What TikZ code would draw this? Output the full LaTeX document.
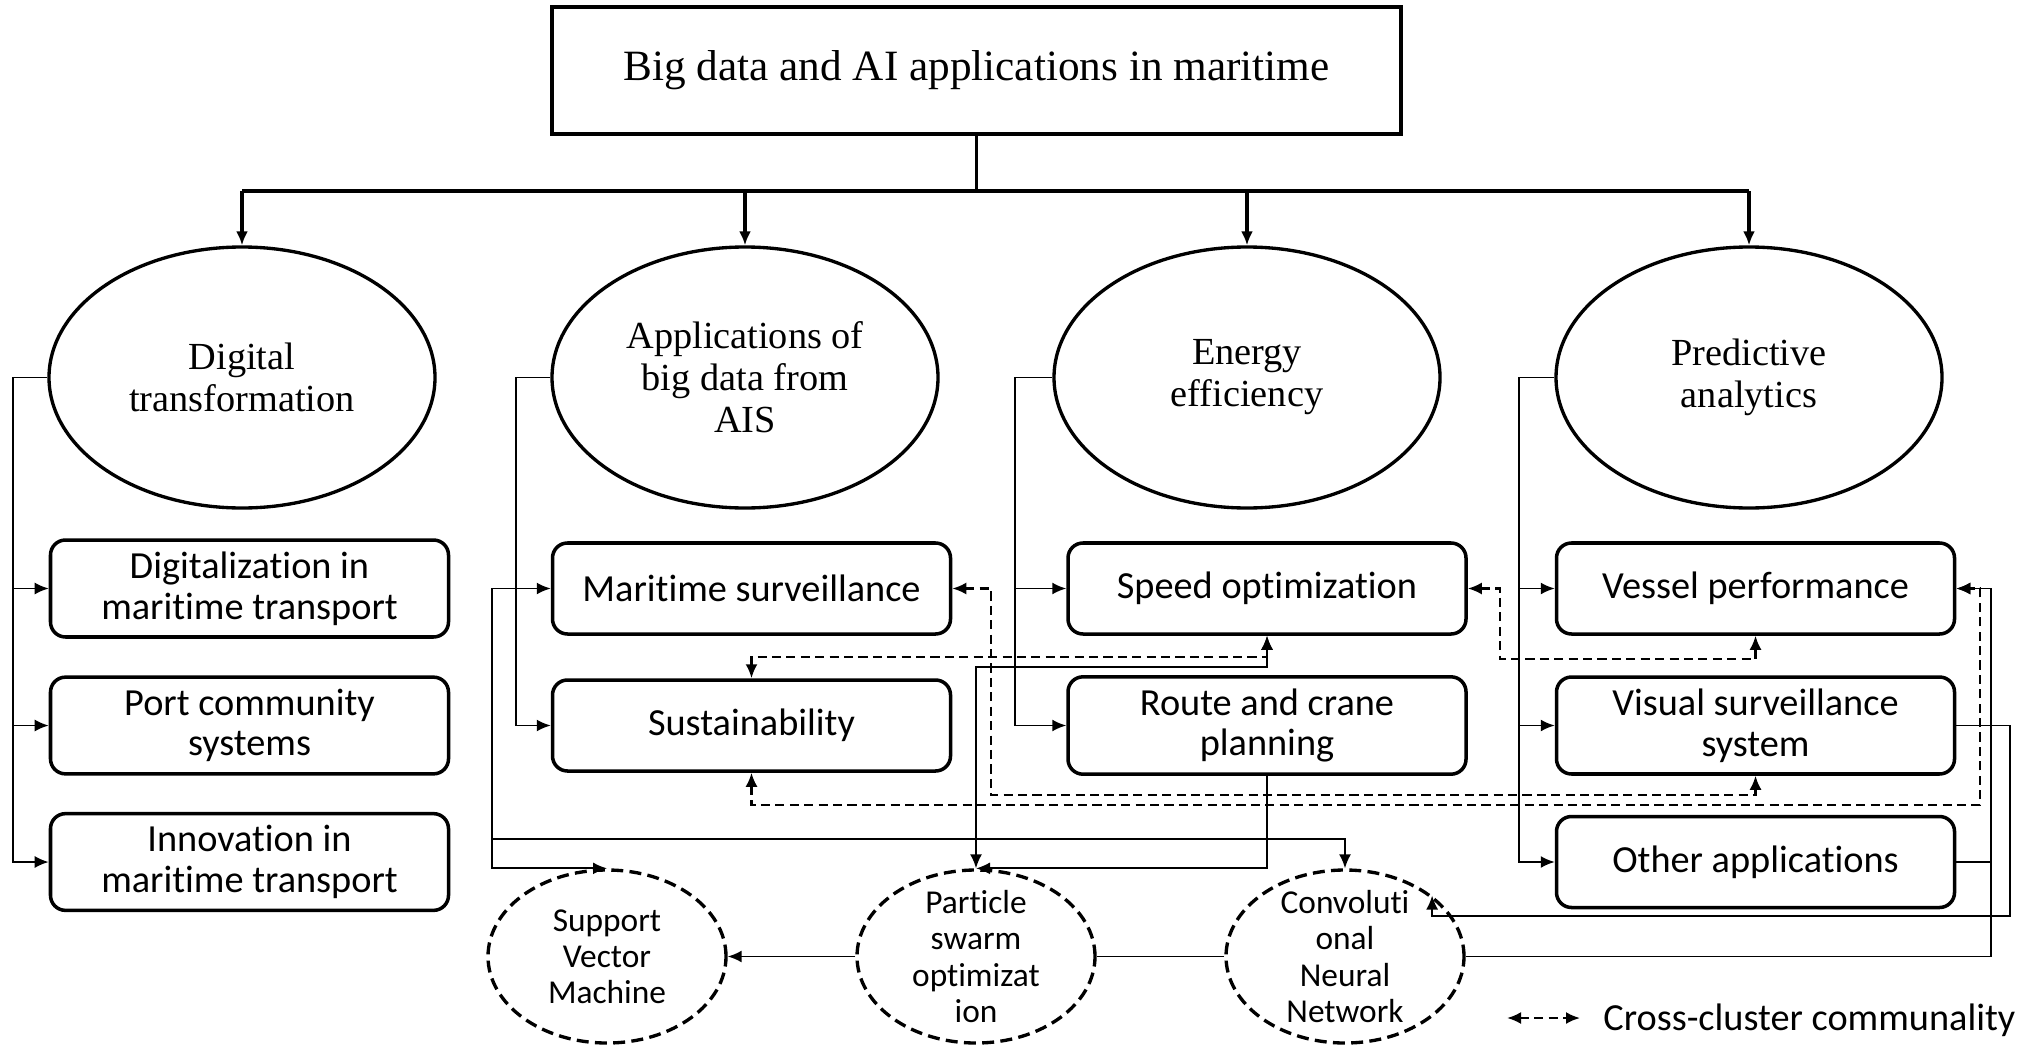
\documentclass[tikz,border=0pt]{standalone}
\usepackage{fontspec}
\setmainfont{Liberation Serif}
\newfontfamily\calfont[Ligatures={NoCommon,NoDiscretionary,NoContextual}]{Carlito}
\usetikzlibrary{shapes.geometric,arrows.meta}

\begin{document}
\begin{tikzpicture}[
        topic/.style={draw, line width=0.95pt, ellipse, minimum width=3.86cm, minimum height=2.61cm, inner sep=0pt, align=center, font=\fontsize{10.9}{12}\selectfont},
        app/.style={draw, line width=1pt, rounded corners=0.15cm, minimum width=3.98cm, minimum height=0.91cm, align=center, font=\calfont\fontsize{10.9}{11.6}\selectfont},
        method/.style={draw, dash pattern=on 3.4pt off 1.8pt, line width=0.95pt, ellipse, minimum width=2.38cm, minimum height=1.73cm, inner sep=0pt},
        methodtext/.style={align=center, inner sep=0pt, font=\calfont\fontsize{9.5}{10.3}\selectfont},
        link/.style={line width=0.55pt, -{Latex[length=1.4mm,width=1.2mm]}},
        both/.style={line width=0.55pt, {Latex[length=1.4mm,width=1.2mm]}-{Latex[length=1.4mm,width=1.2mm]}},
        cross/.style={both, line width=0.65pt, dash pattern=on 2.6pt off 1.5pt},
    ]
        \useasboundingbox (0, 0) rectangle (20.36, -10.48);

        \node[draw, line width=0.95pt, minimum width=8.49cm, minimum height=1.27cm, font=\fontsize{12.3}{14}\selectfont] (root) at(9.765, -0.705){Big data and AI applications in maritime};

        \node[topic] (dt) at(2.42, -3.775){Digital\\transformation};
        \node[topic] (ais) at(7.45, -3.775){Applications of\\big data from\\AIS};
        \node[topic] (ee) at(12.47, -3.775){Energy\\efficiency};
        \node[topic] (pa) at(17.49, -3.775){Predictive\\analytics};

        \node[app] (dmt) at(2.495, -5.885){Digitalization in\\maritime transport};
        \node[app] (pcs) at(2.495, -7.255){Port community\\systems};
        \node[app] (imt) at(2.495, -8.62){Innovation in\\maritime transport};
        \node[app] (ms) at(7.515, -5.885){Maritime surveillance};
        \node[app] (sus) at(7.515, -7.255){Sustainability};
        \node[app] (so) at(12.67, -5.885){Speed optimization};
        \node[app] (rcp) at(12.67, -7.255){Route and crane\\planning};
        \node[app] (vp) at(17.555, -5.885){Vessel performance};
        \node[app] (vss) at(17.555, -7.255){Visual surveillance\\system};
        \node[app] (oa) at(17.555, -8.62){Other applications};

        \node[method] (svm) at(6.07, -9.565){};
        \node[methodtext] (svmt) at(svm){Support\\Vector\\Machine};
        \node[method] (pso) at(9.76, -9.565){};
        \node[methodtext] (psot) at(pso){Particle\\swarm\\optimizat\\ion};
        \node[method] (cnn) at(13.45, -9.565){};
        \node[methodtext] (cnnt) at(cnn){Convoluti\\onal\\Neural\\Network};

        \coordinate (bus) at(9.765, -1.91);
        \draw[line width=1.1pt] (root.south) -- (bus);
        \draw[line width=1.1pt] (dt.north |- bus) -- (pa.north |- bus);
        \foreach \t in {dt, ais, ee, pa}
            \draw[link, line width=1.1pt] (\t.north |- bus) -- (\t.north);

        \coordinate (dtl) at(0.13, -3.775);
        \draw[link] (dt.west) -- (dtl) |- (imt.west);
            \draw[link] (dtl |- dmt.west) -- (dmt.west);
            \draw[link] (dtl |- pcs.west) -- (pcs.west);
        \coordinate (aisl) at(5.16, -3.775);
        \draw[link] (ais.west) -- (aisl) |- (sus.west);
        \coordinate (eel) at(10.15, -3.775);
        \draw[link] (ee.west) -- (eel) |- (rcp.west);
            \draw[link] (eel |- so.west) -- (so.west);
        \coordinate (pal) at(15.19, -3.775);
        \draw[link] (pa.west) -- (pal) |- (oa.west);
            \draw[link] (pal |- vp.west) -- (vp.west);
            \draw[link] (pal |- vss.west) -- (vss.west);

        \coordinate (msl) at(4.92, -5.885);
        \coordinate (cnnl) at(4.92, -8.39);
        \draw[both] (ms.west) -- (msl) |- (svm.north);
        \draw[link] (cnnl) -| (cnn.north);
        \coordinate (psol) at(12.67, -6.67);
        \draw[both] (pso.north) |- (psol) -- (so.south);
        \draw[link] (rcp.south) |- (pso.north);
        \draw[link] (pso.west) -- (svm.east);
        \draw[line width=0.55pt] (cnn.west) -- (pso.east);
        \coordinate (oar) at(19.91, -9.565);
        \draw[line width=0.55pt] (oa.east) -| (oar) -- (cnn.east);
        \draw[link] (oar) |- (vp.east);
        \coordinate (vssr) at(20.10, -9.16);
        \draw[link] (vss.east) -| (vssr) -| (cnn.35);

        \coordinate (msr) at(9.91, -7.95);
        \draw[cross] (ms.east) -| (msr) -| (vss.south);
        \coordinate (susb) at(19.80, -8.05);
        \draw[cross] (sus.south) |- (susb) |- (vp.east);
        \coordinate (sust) at(7.515, -6.57);
        \draw[cross] (sus.north) -- (sust) -| (so.south);
        \coordinate (sor) at(15.00, -6.59);
        \draw[cross] (so.east) -| (sor) -| (vp.south);

        \node[anchor=base west, font=\calfont\fontsize{10.9}{12}\selectfont] (legend) at(15.91, -10.30){Cross-cluster communality};
        \coordinate (legl) at(15.07, -10.18);
        \draw[cross] (legl) -- ([xshift=-1.1mm]legl -| legend.west);
    \end{tikzpicture}
\end{document}
